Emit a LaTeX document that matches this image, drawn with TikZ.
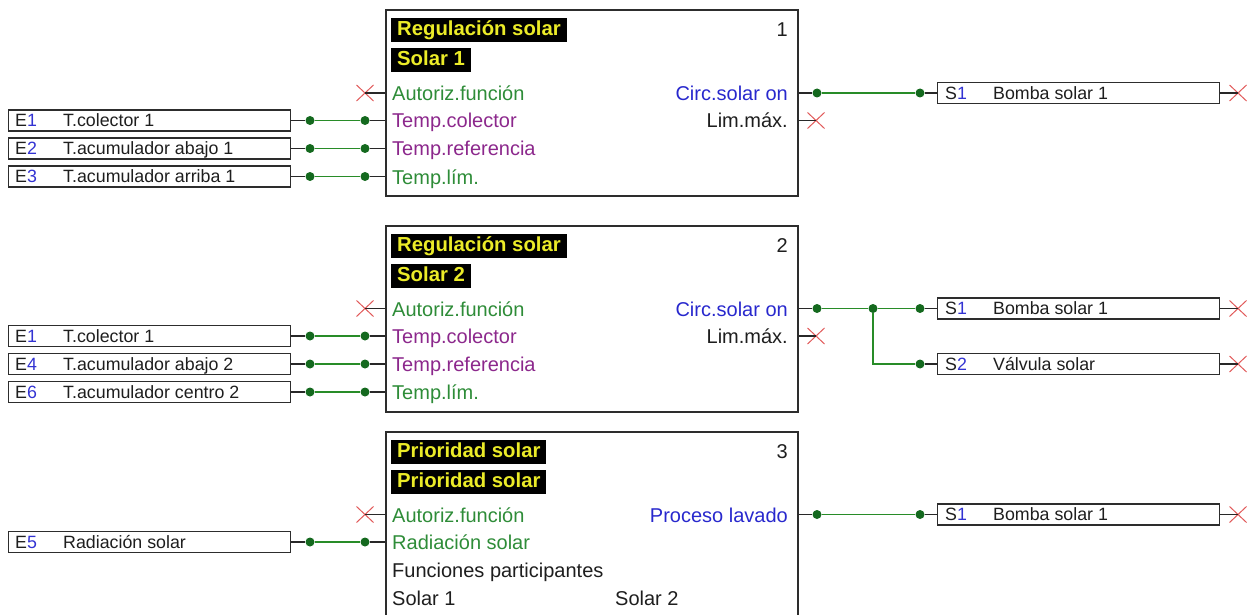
\documentclass[tikz,border=0pt]{standalone}
\usepackage{fontspec}
\setmainfont{Liberation Sans}
\usetikzlibrary{shapes.misc}
\definecolor{tgreen}{RGB}{46,140,56}
\definecolor{tpurple}{RGB}{140,40,140}
\definecolor{tblue}{RGB}{40,40,205}
\definecolor{nblue}{RGB}{50,50,210}
\definecolor{tyellow}{RGB}{235,235,40}
\definecolor{wgreen}{RGB}{40,140,40}
\definecolor{dgreen}{RGB}{20,105,30}
\definecolor{xred}{RGB}{225,90,90}
\definecolor{stubc}{RGB}{40,40,40}
\definecolor{frame}{RGB}{45,45,45}
\definecolor{txt}{RGB}{30,30,30}
\tikzset{
  blk/.style={draw=frame, line width=1.5pt, anchor=north west, minimum width=412pt, inner sep=0pt},
  io/.style={draw=frame, line width=1.4pt, anchor=west, minimum width=282pt, minimum height=21pt, inner sep=0pt},
  ttl/.style={fill=black, text=tyellow, font=\fontsize{20.3}{24}\selectfont\bfseries, anchor=west, inner xsep=6pt, inner ysep=0pt, minimum height=24pt, text height=15pt, text depth=3pt},
  lbl/.style={font=\fontsize{20}{24}\selectfont, inner sep=0pt, text=txt},
  iol/.style={font=\fontsize{17.8}{21}\selectfont, inner sep=0pt, anchor=base west, text=txt},
  wire/.style={draw=wgreen, line width=1.5pt},
  stub/.style={draw=stubc, line width=1.5pt},
  xm/.style={cross out, draw=xred, line width=1pt, minimum width=16pt, minimum height=15pt, inner sep=0pt},
  dotn/.style={circle, fill=dgreen, minimum size=9pt, inner sep=0pt},
}
\newcommand\ioin[4]{%
  \node[io] (#1) at (8,#2) {};
  \node[iol] (#1-n) at (15,{#2+6.4}) {E\textcolor{nblue}{#3}};
  \node[iol] (#1-t) at (63,{#2+6.4}) {#4};
}
\newcommand\ioout[4]{%
  \node[io] (#1) at (937,#2) {};
  \node[iol] (#1-n) at (945,{#2+6.4}) {S\textcolor{nblue}{#3}};
  \node[iol] (#1-t) at (993,{#2+6.4}) {#4};
  \node[xm] (#1-x) at (1238,#2) {};
  \draw[stub] (#1.east) -- (#1-x.center);
}
\newcommand\inwire[3]{%
  \node[dotn] (#1-da) at (310,#3) {};
  \node[dotn] (#1-db) at (365,#3) {};
  \draw[stub] (#1.east) -- (#1-da.west);
  \draw[wire] (#1-da.east) -- (#1-db.west);
  \draw[stub] (#1-db.east) -- (#1-db.east -| #2.west);
}
\newcommand\xin[3]{%
  \node[xm] (#1) at (365,#3) {};
  \draw[stub] (#1.center) -- (#1.center -| #2.west);
}
\begin{document}
\begin{tikzpicture}[x=1pt,y=-1pt]
\useasboundingbox (0,0) rectangle (1250,615);
\clip (0,0) rectangle (1250,615);

% ---------------- Block 1
\node[blk, minimum height=185.5pt] (B1) at (385,9.5) {};
\node[ttl] (B1t) at (391,30) {Regulación solar};
\node[ttl] (B1s) at (391,60) {Solar 1};
\node[lbl, anchor=base east] (B1n) at (788,36.5) {1};
\node[lbl, anchor=base west, text=tgreen] (B1a) at (392,100.5) {Autoriz.función};
\node[lbl, anchor=base west, text=tpurple] (B1b) at (392,128) {Temp.colector};
\node[lbl, anchor=base west, text=tpurple] (B1c) at (392,156) {Temp.referencia};
\node[lbl, anchor=base west, text=tgreen] (B1d) at (392,184) {Temp.lím.};
\node[lbl, anchor=base east, text=tblue] (B1o) at (788,100.5) {Circ.solar on};
\node[lbl, anchor=base east] (B1m) at (788,128) {Lim.máx.};

\xin{X1a}{B1}{93}
\ioin{I11}{120.5}{1}{T.colector 1}
\ioin{I12}{148.5}{2}{T.acumulador abajo 1}
\ioin{I13}{176.5}{3}{T.acumulador arriba 1}
\inwire{I11}{B1}{120.5}
\inwire{I12}{B1}{148.5}
\inwire{I13}{B1}{176.5}

\node[dotn] (O1a) at (817,93) {};
\node[dotn] (O1b) at (920,93) {};
\ioout{S11}{93}{1}{Bomba solar 1}
\draw[stub] (O1a.west -| B1.east) -- (O1a.west);
\draw[wire] (O1a.east) -- (O1b.west);
\draw[stub] (O1b.east) -- (S11.west);
\node[xm] (X1m) at (816,120.5) {};
\draw[stub] (X1m.center -| B1.east) -- (X1m.center);

% ---------------- Block 2
\node[blk, minimum height=186pt] (B2) at (385,225) {};
\node[ttl] (B2t) at (391,245.5) {Regulación solar};
\node[ttl] (B2s) at (391,275.5) {Solar 2};
\node[lbl, anchor=base east] (B2n) at (788,252) {2};
\node[lbl, anchor=base west, text=tgreen] (B2a) at (392,316) {Autoriz.función};
\node[lbl, anchor=base west, text=tpurple] (B2b) at (392,343.5) {Temp.colector};
\node[lbl, anchor=base west, text=tpurple] (B2c) at (392,371.5) {Temp.referencia};
\node[lbl, anchor=base west, text=tgreen] (B2d) at (392,399.5) {Temp.lím.};
\node[lbl, anchor=base east, text=tblue] (B2o) at (788,316) {Circ.solar on};
\node[lbl, anchor=base east] (B2m) at (788,343.5) {Lim.máx.};

\xin{X2a}{B2}{308.5}
\ioin{I21}{336}{1}{T.colector 1}
\ioin{I22}{364}{4}{T.acumulador abajo 2}
\ioin{I23}{392}{6}{T.acumulador centro 2}
\inwire{I21}{B2}{336}
\inwire{I22}{B2}{364}
\inwire{I23}{B2}{392}

\node[dotn] (O2a) at (817,308.5) {};
\node[dotn] (O2j) at (873,308.5) {};
\node[dotn] (O2b) at (920,308.5) {};
\node[dotn] (O2c) at (920,364) {};
\ioout{S21}{308.5}{1}{Bomba solar 1}
\ioout{S22}{364}{2}{Válvula solar}
\draw[stub] (O2a.west -| B2.east) -- (O2a.west);
\draw[wire] (O2a.east) -- (O2j.west);
\draw[wire] (O2j.east) -- (O2b.west);
\draw[wire] (O2j.south) |- (O2c.west);
\draw[stub] (O2b.east) -- (S21.west);
\draw[stub] (O2c.east) -- (S22.west);
\node[xm] (X2m) at (816,336) {};
\draw[stub] (X2m.center -| B2.east) -- (X2m.center);

% ---------------- Block 3
\node[blk, minimum height=250pt] (B3) at (385,431) {};
\node[ttl] (B3t) at (391,451.5) {Prioridad solar};
\node[ttl] (B3s) at (391,481.5) {Prioridad solar};
\node[lbl, anchor=base east] (B3n) at (788,458) {3};
\node[lbl, anchor=base west, text=tgreen] (B3a) at (392,522) {Autoriz.función};
\node[lbl, anchor=base west, text=tgreen] (B3b) at (392,549.5) {Radiación solar};
\node[lbl, anchor=base west] (B3c) at (392,577.5) {Funciones participantes};
\node[lbl, anchor=base west] (B3d) at (392,605.5) {Solar 1};
\node[lbl, anchor=base west] (B3e) at (615,605.5) {Solar 2};
\node[lbl, anchor=base east, text=tblue] (B3o) at (788,522) {Proceso lavado};

\xin{X3a}{B3}{514.5}
\ioin{I31}{542}{5}{Radiación solar}
\inwire{I31}{B3}{542}

\node[dotn] (O3a) at (817,514.5) {};
\node[dotn] (O3b) at (920,514.5) {};
\ioout{S31}{514.5}{1}{Bomba solar 1}
\draw[stub] (O3a.west -| B3.east) -- (O3a.west);
\draw[wire] (O3a.east) -- (O3b.west);
\draw[stub] (O3b.east) -- (S31.west);
\end{tikzpicture}
\end{document}
